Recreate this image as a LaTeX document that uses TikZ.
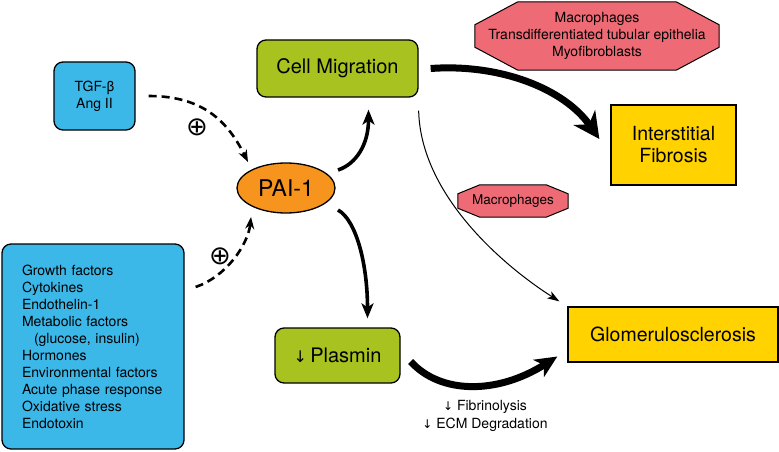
\documentclass[tikz,border=0pt]{standalone}
\usepackage{fontspec}
\setmainfont{TeX Gyre Heros}
\newfontfamily\symfont{DejaVu Sans}
\usetikzlibrary{arrows.meta,shapes.geometric,backgrounds}
\definecolor{inblue}{HTML}{3BB7E8}
\definecolor{effgreen}{HTML}{A8C320}
\definecolor{paiorange}{HTML}{F7941E}
\definecolor{outyellow}{HTML}{FFD200}
\definecolor{cellpink}{HTML}{EE6B76}
\tikzstyle{block} = [rectangle, draw, line width=1.3pt, rounded corners=9pt, inner sep=0pt]
\tikzstyle{inbox} = [block, fill=inblue, font=\fontsize{14}{17}\selectfont]
\tikzstyle{effect} = [block, fill=effgreen, font=\fontsize{20}{22}\selectfont]
\tikzstyle{outcome} = [rectangle, draw, line width=1.3pt, fill=outyellow, inner sep=0pt,
                 font=\fontsize{19.5}{22}\selectfont]
\tikzstyle{octo} = [draw, line width=1pt, fill=cellpink]
\tikzstyle{induce} = [line width=2.6pt, dash pattern=on 8pt off 5pt, -{Stealth[length=12pt,width=9pt]}]
\tikzstyle{branch} = [line width=3.6pt, -{Stealth[length=15pt,width=12pt,inset=4pt]}]
\tikzstyle{thinbranch} = [line width=1pt, -{Stealth[length=12pt,width=8pt,inset=3pt]}]
\tikzstyle{plus} = [font=\symfont\fontsize{26}{26}\selectfont, inner sep=0pt]

\begin{document}
\begin{tikzpicture}[x=1pt, y=-1pt]
\useasboundingbox (0,0) rectangle (779,452);

% inducers
\node [inbox, minimum width=81pt, minimum height=68pt, align=center] at (94.5,96) (tgf) {TGF-β\\Ang II};
\node [inbox, minimum width=182pt, minimum height=205pt, text width=142pt, align=left] at (93,346.5) (factors)
	{Growth factors\\Cytokines\\Endothelin-1\\Metabolic factors\\\hspace*{12pt}(glucose, insulin)\\Hormones\\Environmental factors\\Acute phase response\\Oxidative stress\\Endotoxin};

\node [ellipse, draw, line width=1.3pt, fill=paiorange, minimum width=98pt, minimum height=50pt, inner sep=0pt,
	font=\fontsize{23}{26}\selectfont] at (286,188) (pai) {PAI-1};

\node [effect, minimum width=161pt, minimum height=57pt] at (337.5,68.5) (migr) {Cell Migration};
\node [effect, minimum width=125pt, minimum height=55pt] at (337.5,355.5) (plasmin)
	{{\symfont\fontsize{16}{16}\selectfont ↓}\,Plasmin};

\node [outcome, minimum width=125pt, minimum height=80pt, align=center] at (673.5,145) (fib) {Interstitial\\Fibrosis};
\node [outcome, minimum width=210pt, minimum height=55pt] at (673,334.5) (glom) {Glomerulosclerosis};

\node [minimum width=244pt, minimum height=68pt, inner sep=0pt, align=center, font=\fontsize{14}{16.7}\selectfont]
	at (597,36) (cells) {Macrophages\\Transdifferentiated tubular epithelia\\Myofibroblasts};
\node [minimum width=110pt, minimum height=32pt, inner sep=0pt, font=\fontsize{13.5}{16}\selectfont]
	at (513,201) (macro) {Macrophages};

\node [align=center, font=\fontsize{14}{18}\selectfont] at (485,416) (loss)
	{{\symfont\fontsize{12}{12}\selectfont ↓} Fibrinolysis\\{\symfont\fontsize{12}{12}\selectfont ↓} ECM Degradation};

\node [plus] at (197,127) (plusa) {⊕};
\node [plus] at (220,256) (plusb) {⊕};

\begin{scope}[on background layer]
\path [octo] ([xshift=43pt]cells.north west) -- ([xshift=-43pt]cells.north east) -- ([yshift=-23pt]cells.north east)
	-- ([yshift=23pt]cells.south east) -- ([xshift=-43pt]cells.south east) -- ([xshift=43pt]cells.south west)
	-- ([yshift=23pt]cells.south west) -- ([yshift=-23pt]cells.north west) -- cycle;
\path [octo] ([xshift=22pt]macro.north west) -- ([xshift=-22pt]macro.north east) -- ([yshift=-9pt]macro.north east)
	-- ([yshift=9pt]macro.south east) -- ([xshift=-22pt]macro.south east) -- ([xshift=22pt]macro.south west)
	-- ([yshift=9pt]macro.south west) -- ([yshift=-9pt]macro.north west) -- cycle;
\end{scope}

% arrows
\draw [induce] ([xshift=13pt]tgf.east) .. controls +(55,0) and +(-20,-40) .. ([xshift=-38pt,yshift=26pt]pai.center);
\draw [induce] ([xshift=11pt]factors.33) .. controls +(30,-10) and +(-3,28) .. ([xshift=-35pt,yshift=-29pt]pai.center);
\draw [branch] ([xshift=52pt,yshift=18pt]pai.center) .. controls +(18,-6) and +(0,35) .. ([xshift=31pt,yshift=-12pt]migr.south);
\draw [branch] ([xshift=52pt,yshift=-22pt]pai.center) .. controls +(18,10) and +(0,-55) .. ([xshift=30pt,yshift=9pt]plasmin.north);
\draw [line width=7pt, -{Stealth[length=26pt,width=26pt,inset=8pt]}] ([xshift=12pt]migr.east)
	.. controls +(70,-5) and +(-35,-50) .. ([xshift=-11pt,yshift=6pt]fib.west);
\draw [thinbranch] ([yshift=-13pt]migr.south east) .. controls +(2,85) and +(-55,-35) .. ([xshift=-8pt,yshift=5pt]glom.north west);
\draw [line width=7pt, -{Stealth[length=22pt,width=20pt,inset=6pt]}] ([xshift=10pt,yshift=-6pt]plasmin.east)
	.. controls +(30,33) and +(-60,38) .. ([xshift=-10pt,yshift=-22pt]glom.west);

\end{tikzpicture}
\end{document}
